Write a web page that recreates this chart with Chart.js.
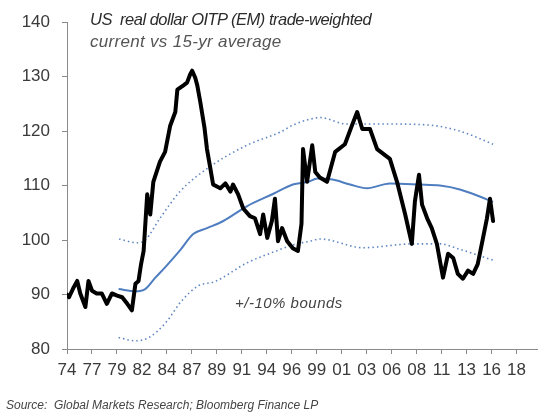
<!DOCTYPE html>
<html>
<head>
<meta charset="utf-8">
<script src="https://cdn.jsdelivr.net/npm/chart.js@4.4.1/dist/chart.umd.min.js"></script>
<style>
    body { margin: 0; background: #fff; }
    #wrap { position: relative; width: 550px; height: 415px; font-family: "Liberation Sans", Arial, sans-serif; }
    #chart { position: absolute; left: 0; top: 0; }
    .note { position: absolute; font-style: italic; white-space: nowrap; line-height: 1; }
    #title { left: 90px; top: 11px; font-size: 16.5px; letter-spacing: -0.5px; color: #2b2b2b; }
    #subtitle { left: 90px; top: 33px; font-size: 17px; letter-spacing: 0.3px; color: #555; }
    #bounds { left: 235px; top: 295px; font-size: 15px; letter-spacing: 0.5px; color: #444; }
    #source { left: 6px; top: 399px; font-size: 12px; color: #444; }
</style>
</head>
<body>
<div id="wrap">
    <canvas id="chart" width="550" height="415"></canvas>
    <div class="note" id="title">US&nbsp; real dollar OITP (EM) trade-weighted</div>
    <div class="note" id="subtitle">current vs 15-yr average</div>
    <div class="note" id="bounds">+/-10% bounds</div>
    <div class="note" id="source">Source:&nbsp; Global Markets Research; Bloomberg Finance LP</div>
</div>
<script>
// x-axis tick labels (evenly spaced from 1974 to 2018)
const tickLabels = ['74', '77', '79', '82', '84', '87', '89', '91', '94', '96', '99', '01', '03', '06', '08', '11', '13', '16', '18'];
const tickFirst = 1974;
const tickLast = 2018;

// real dollar index (black)
const rateYears = [1974.0, 1974.2, 1974.65, 1975.0, 1975.3, 1975.8, 1976.1, 1976.45, 1976.9, 1977.4, 1977.9, 1978.4, 1978.9, 1979.4, 1979.9, 1980.35,
    1980.7, 1981.0, 1981.25, 1981.5, 1981.85, 1982.15, 1982.45, 1983.1, 1983.6, 1984.1, 1984.6, 1984.8, 1985.4, 1985.75, 1986.05, 1986.25,
    1986.55, 1986.75, 1987.05, 1987.45, 1987.7, 1988.0, 1988.3, 1989.0, 1989.5, 1990.0, 1990.25, 1990.75, 1991.25, 1991.9, 1992.4, 1992.9,
    1993.2, 1993.6, 1994.05, 1994.35, 1994.65, 1995.05, 1995.55, 1996.1, 1996.6, 1996.95, 1997.1, 1997.5, 1998.0, 1998.3, 1998.75, 1999.45,
    2000.25, 2001.2, 2001.9, 2002.4, 2002.9, 2003.65, 2004.35, 2005.6, 2006.3, 2007.1, 2007.75, 2008.05, 2008.45, 2008.75, 2009.25, 2009.7,
    2010.2, 2010.5, 2010.8, 2011.3, 2011.8, 2012.25, 2012.75, 2013.25, 2013.75, 2014.2, 2014.6, 2015.1, 2015.4, 2015.7];
const rateValues = [90.0, 89.5, 91.3, 92.5, 90.2, 87.7, 92.5, 90.7, 90.2, 90.2, 88.3, 90.2, 89.8, 89.5, 88.3, 87.1,
    92.0, 92.5, 95.6, 98.0, 108.4, 104.7, 110.7, 114.4, 116.2, 121.0, 123.5, 127.6, 128.4, 128.9, 130.4, 131.1,
    129.8, 128.4, 125.3, 120.7, 116.7, 113.5, 110.2, 109.5, 110.4, 108.9, 110.2, 108.4, 105.8, 104.4, 104.0, 101.1,
    104.7, 100.4, 103.5, 107.6, 99.8, 102.2, 99.8, 98.5, 98.0, 103.0, 116.7, 110.7, 117.4, 112.5, 111.5, 110.7,
    116.2, 117.6, 121.1, 123.5, 120.4, 120.4, 116.7, 114.9, 110.7, 104.7, 99.3, 107.1, 112.0, 106.5, 104.0, 102.2,
    99.3, 96.2, 93.1, 97.5, 96.7, 93.8, 92.9, 94.4, 93.8, 95.6, 99.3, 104.0, 107.6, 103.5];

// 15-yr average (blue)
const avgYears = [1979.05, 1980.7, 1981.65, 1982.6, 1983.6, 1985.1, 1986.35, 1987.7, 1989.3, 1991.6, 1994.2, 1996.1, 1997.6, 1998.5,
    2000.0, 2001.7, 2003.35, 2005.6, 2008.5, 2010.5, 2012.45, 2014.4, 2015.7];
const avgValues = [91.0, 90.6, 91.0, 93.0, 95.0, 98.2, 101.1, 102.2, 103.5, 106.2, 108.5, 110.2, 110.7, 111.3,
    111.1, 110.2, 109.5, 110.4, 110.2, 110.0, 109.3, 108.0, 107.0];

// +10% bound (dotted)
const upperYears = [1979.1, 1980.85, 1981.65, 1983.1, 1985.1, 1987.7, 1991.6, 1994.85, 1996.1, 1997.8, 1998.75, 2001.4, 2005.6, 2009.5, 2012.45, 2015.7];
const upperValues = [100.2, 99.5, 100.0, 104.0, 109.0, 113.1, 117.4, 119.8, 121.1, 122.2, 122.5, 121.3, 121.3, 121.1, 120.0, 117.6];

// -10% bound (dotted)
const lowerYears = [1979.05, 1980.7, 1982.0, 1983.6, 1985.25, 1986.85, 1988.5, 1991.6, 1994.2, 1996.1, 1997.8, 1998.75, 2003.0, 2007.85, 2010.5, 2012.45, 2015.7];
const lowerValues = [82.1, 81.5, 82.1, 84.7, 88.9, 91.6, 92.4, 95.8, 97.8, 99.1, 99.8, 100.2, 98.6, 99.3, 99.3, 98.3, 96.3];

// y-axis
const yMin = 80;
const yMax = 140;
const yStep = 10;

const toPoints = (xs, ys) => xs.map((x, i) => ({ x: x, y: ys[i] }));

const axisColor = '#8a8a8a';
const labelColor = '#3a3a3a';
const boundColor = '#5f86c0';

const ctx = document.getElementById('chart');

new Chart(ctx, {
    type: 'line',
    data: {
        datasets: [
            {
                label: 'Real dollar',
                data: toPoints(rateYears, rateValues),
                borderColor: '#000',
                borderWidth: 4,
                tension: 0,
                borderJoinStyle: 'round',
                borderCapStyle: 'round',
                pointRadius: 0
            },
            {
                label: '15-yr average',
                data: toPoints(avgYears, avgValues),
                borderColor: '#4e7dc0',
                borderWidth: 2,
                cubicInterpolationMode: 'monotone',
                pointRadius: 0
            },
            {
                label: '+10%',
                data: toPoints(upperYears, upperValues),
                borderColor: boundColor,
                borderWidth: 1.6,
                borderDash: [1.5, 3],
                cubicInterpolationMode: 'monotone',
                pointRadius: 0
            },
            {
                label: '-10%',
                data: toPoints(lowerYears, lowerValues),
                borderColor: boundColor,
                borderWidth: 1.6,
                borderDash: [1.5, 3],
                cubicInterpolationMode: 'monotone',
                pointRadius: 0
            }
        ]
    },
    options: {
        responsive: false,
        animation: false,
        layout: {
            padding: { top: 19, right: 13, bottom: 36, left: 0 }
        },
        plugins: {
            legend: { display: false },
            tooltip: { enabled: false }
        },
        scales: {
            x: {
                type: 'linear',
                min: 1974,
                max: 2020,
                afterBuildTicks: (scale) => {
                    const step = (tickLast - tickFirst) / (tickLabels.length - 1);
                    scale.ticks = tickLabels.map((t, i) => ({ value: tickFirst + i * step }));
                },
                afterFit: (scale) => { scale.height = 30; },
                grid: {
                    drawOnChartArea: false,
                    drawTicks: true,
                    tickLength: 5,
                    color: axisColor
                },
                border: { display: true, color: axisColor, width: 1 },
                ticks: {
                    autoSkip: false,
                    maxRotation: 0,
                    padding: 6,
                    color: labelColor,
                    font: { family: '"Liberation Sans", Arial, sans-serif', size: 17 },
                    callback: (value, index) => tickLabels[index]
                }
            },
            y: {
                min: yMin,
                max: yMax,
                afterFit: (scale) => { scale.width = 67; },
                grid: {
                    drawOnChartArea: false,
                    drawTicks: true,
                    tickLength: 5,
                    color: axisColor
                },
                border: { display: true, color: axisColor, width: 1 },
                ticks: {
                    stepSize: yStep,
                    padding: 12,
                    color: labelColor,
                    font: { family: '"Liberation Sans", Arial, sans-serif', size: 17 }
                }
            }
        }
    }
});
</script>
</body>
</html>
